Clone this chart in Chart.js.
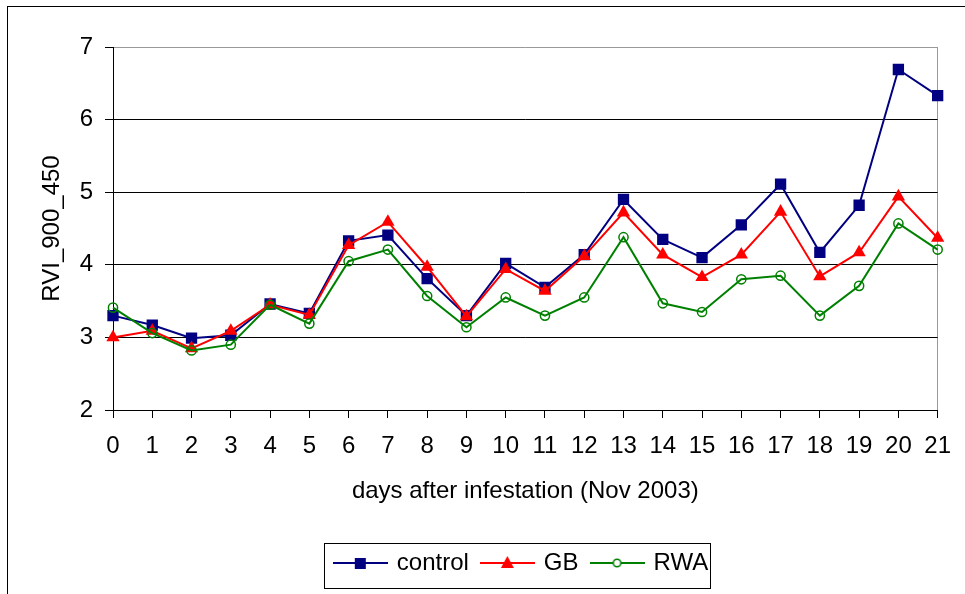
<!DOCTYPE html>
<html lang="en">
<head>
  <meta charset="UTF-8" />
  <title>RVI_900_450 | days after infestation</title>
  <script src="https://cdn.jsdelivr.net/npm/chart.js@4.4.0/dist/chart.umd.min.js"></script>
  <style>
    * { margin: 0; padding: 0; box-sizing: border-box; }
    html, body { width: 965px; height: 594px; overflow: hidden; background: #fff; }
    .frame { position: absolute; left: 7px; top: 6px; width: 1000px; height: 700px; border: 1px solid #000; }
    .wrap { position: absolute; left: 0; top: 0; width: 965px; height: 594px; }
  </style>
</head>
<body>
  <div class="frame"></div>
  <div class="wrap"><canvas id="rviChart" width="965" height="594"></canvas></div>

  <script>
    const days = ['0', '1', '2', '3', '4', '5', '6', '7', '8', '9', '10',
                  '11', '12', '13', '14', '15', '16', '17', '18', '19', '20', '21'];
    const control = [3.30, 3.17, 2.99, 3.03, 3.46, 3.33, 4.33, 4.41, 3.81, 3.30, 4.02,
                     3.69, 4.14, 4.90, 4.35, 4.10, 4.55, 5.11, 4.17, 4.82, 6.69, 6.33];
    const gb = [3.00, 3.09, 2.85, 3.09, 3.45, 3.31, 4.27, 4.59, 3.97, 3.29, 3.94,
                3.64, 4.12, 4.72, 4.14, 3.83, 4.14, 4.73, 3.84, 4.17, 4.94, 4.37];
    const rwa = [3.41, 3.06, 2.82, 2.90, 3.45, 3.19, 4.05, 4.21, 3.57, 3.14, 3.55,
                 3.30, 3.55, 4.38, 3.47, 3.35, 3.80, 3.85, 3.30, 3.71, 4.57, 4.21];
    const yTicks = [2, 3, 4, 5, 6, 7];

    Chart.defaults.font.family = "'Liberation Sans', Arial, sans-serif";
    Chart.defaults.font.size = 24;
    Chart.defaults.color = '#000';

    // little "line + marker" pictures for the legend
    function legendIcon(color, style) {
      const c = document.createElement('canvas');
      c.width = 55; c.height = 24;
      const g = c.getContext('2d');
      g.strokeStyle = color; g.fillStyle = color; g.lineWidth = 2;
      g.beginPath(); g.moveTo(0, 12); g.lineTo(55, 12); g.stroke();
      if (style === 'rect') {
        g.fillRect(22, 7, 11, 11);
      } else if (style === 'triangle') {
        g.beginPath(); g.moveTo(27.5, 5); g.lineTo(34, 17); g.lineTo(21, 17); g.closePath(); g.fill();
      } else {
        g.fillStyle = '#fff'; g.lineWidth = 1.5;
        g.beginPath(); g.arc(27.5, 12, 3.8, 0, Math.PI * 2); g.fill(); g.stroke();
      }
      return c;
    }

    const legendShift = {
      id: 'legendShift',
      afterLayout(chart) {
        chart.legend.left += 53;
        chart.legend.right += 53;
      }
    };

    const legendFrame = {
      id: 'legendFrame',
      afterDraw(chart) {
        const boxes = chart.legend.legendHitBoxes;
        if (!boxes || !boxes.length) return;
        const first = boxes[0], last = boxes[boxes.length - 1];
        const mid = first.top + first.height / 2;
        const ctx = chart.ctx;
        ctx.save();
        ctx.strokeStyle = '#000';
        ctx.lineWidth = 1;
        const x0 = Math.round(first.left - 12) + 0.5;
        const x1 = Math.round(last.left + last.width + 2) + 0.5;
        ctx.strokeRect(x0, Math.round(mid - 20) + 0.5, x1 - x0, 45);
        ctx.restore();
      }
    };

    new Chart(document.getElementById('rviChart'), {
      type: 'line',
      data: {
        labels: days,
        datasets: [
          {
            label: 'control', data: control, order: 3,
            borderColor: '#000080', backgroundColor: '#000080', borderWidth: 2,
            pointStyle: 'rect', pointRadius: 8, pointBorderWidth: 0,
            legendIcon: legendIcon('#000080', 'rect')
          },
          {
            label: 'GB', data: gb, order: 2,
            borderColor: '#ff0000', backgroundColor: '#ff0000', borderWidth: 2,
            pointStyle: 'triangle', pointRadius: 7.7, pointBorderWidth: 0,
            legendIcon: legendIcon('#ff0000', 'triangle')
          },
          {
            label: 'RWA', data: rwa, order: 1,
            borderColor: '#008000', backgroundColor: 'rgba(0,0,0,0)', borderWidth: 2,
            pointStyle: 'circle', pointRadius: 4.6, pointBorderWidth: 1.5,
            legendIcon: legendIcon('#008000', 'circle')
          }
        ]
      },
      options: {
        responsive: false,
        animation: false,
        layout: { padding: { top: 47, right: 27, left: 0, bottom: 9 } },
        plugins: {
          tooltip: { enabled: false },
          legend: {
            position: 'bottom',
            labels: {
              usePointStyle: true,
              pointStyleWidth: 49,
              padding: 14,
              font: { size: 24 },
              color: '#000',
              sort: (a, b) => a.datasetIndex - b.datasetIndex,
              generateLabels(chart) {
                return chart.data.datasets.map((ds, i) => ({
                  text: ds.label,
                  pointStyle: ds.legendIcon,
                  fillStyle: ds.borderColor,
                  strokeStyle: ds.borderColor,
                  lineWidth: 0,
                  fontColor: '#000',
                  hidden: false,
                  datasetIndex: i
                }));
              }
            }
          }
        },
        scales: {
          x: {
            afterFit(scale) { scale.height = 127; },
            grid: {
              drawOnChartArea: true,
              color: ctx => (ctx.index === days.length - 1 ? '#999' : 'rgba(0,0,0,0)'),
              tickColor: '#000',
              tickLength: 8,
              lineWidth: 1
            },
            border: { display: true, color: '#000', width: 1 },
            ticks: { autoSkip: false, maxRotation: 0, padding: 14, font: { size: 24 } },
            title: {
              display: true,
              text: 'days after infestation (Nov 2003)',
              font: { size: 24 },
              padding: { top: 0, bottom: 31 }
            }
          },
          y: {
            min: yTicks[0],
            max: yTicks[yTicks.length - 1],
            afterFit(scale) { scale.width = 113; },
            grid: {
              color: ctx => (ctx.tick && ctx.tick.value === yTicks[yTicks.length - 1] ? '#999' : '#000'),
              tickColor: '#000',
              tickLength: 8,
              lineWidth: 1
            },
            border: { display: true, color: '#000', width: 1 },
            ticks: { stepSize: 1, padding: 12, font: { size: 24 } },
            title: {
              display: true,
              text: 'RVI_900_450',
              font: { size: 24 },
              padding: { top: 38, bottom: 0 }
            }
          }
        }
      },
      plugins: [legendShift, legendFrame]
    });
  </script>
</body>
</html>
